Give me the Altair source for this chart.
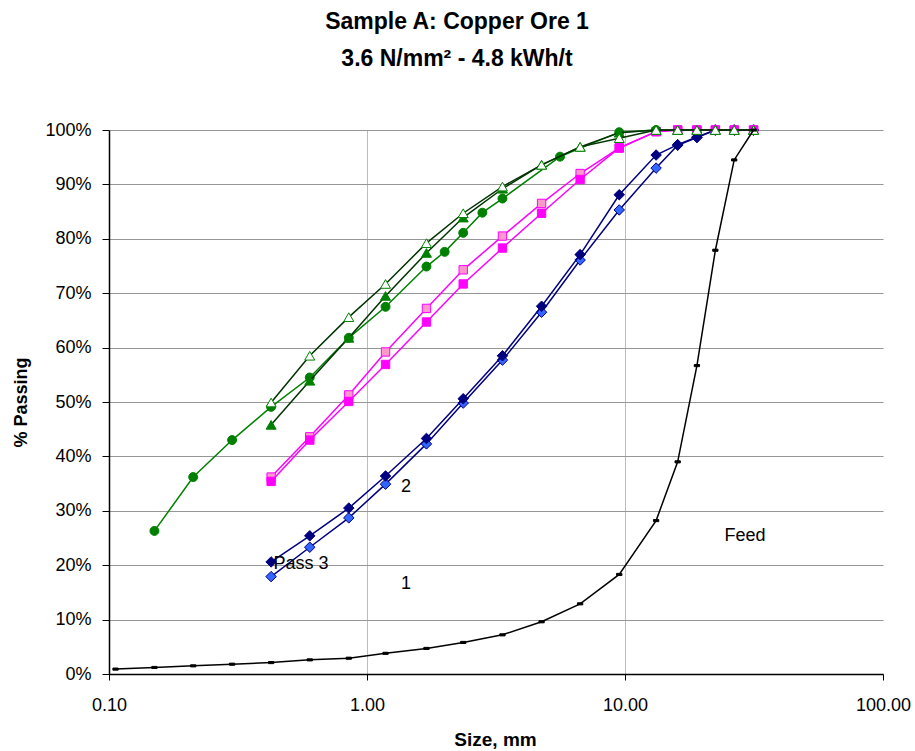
import altair as alt
import pandas as pd

FONT = "Liberation Sans, Arial, Helvetica, sans-serif"

# Sieve sizes (mm)
feed_sizes = [0.106, 0.15, 0.212, 0.3, 0.425, 0.6, 0.85, 1.18, 1.7, 2.36, 3.35, 4.75,
              6.7, 9.5, 13.2, 16, 19, 22.4, 26.5, 31.5]
prod_sizes = [0.425, 0.6, 0.85, 1.18, 1.7, 2.36, 3.35, 4.75, 6.7, 9.5, 13.2, 16, 19,
              22.4, 26.5, 31.5]
circle_sizes = [0.15, 0.212, 0.3, 0.425, 0.6, 0.85, 1.18, 1.7, 2.0, 2.36, 2.8, 3.35,
                5.6, 9.5, 13.2]

# % passing
feed = [0.9, 1.2, 1.5, 1.8, 2.1, 2.6, 2.9, 3.8, 4.7, 5.8, 7.2, 9.6, 12.9, 18.3, 28.2,
        39.0, 56.7, 77.9, 94.5, 100]
blue_dark = [20.6, 25.4, 30.5, 36.4, 43.3, 50.6, 58.5, 67.6, 77.1, 88.1, 95.4, 97.3,
             98.7, 100, 100, 100]
blue_light = [17.9, 23.3, 28.7, 34.9, 42.3, 49.8, 57.7, 66.5, 76.1, 85.3, 93.0, 97.2,
              98.6, 100, 100, 100]
pink_open = [36.2, 43.6, 51.3, 59.2, 67.2, 74.3, 80.5, 86.5, 92.0, 96.7, 99.7, 100,
             100, 100, 100, 100]
pink_filled = [35.4, 43.0, 50.1, 56.9, 64.7, 71.7, 78.3, 84.7, 90.9, 96.7, 99.7, 100,
               100, 100, 100, 100]
green_circle = [26.3, 36.2, 43.0, 49.1, 54.5, 61.8, 67.5, 74.9, 77.6, 81.1, 84.8, 87.4,
                95.1, 99.6, 100]
green_tri_filled = [45.8, 53.9, 61.8, 69.5, 77.4, 83.9, 89.2, 93.6, 96.9, 99.5, 100,
                    100, 100, 100, 100, 100]
green_tri_open = [49.9, 58.5, 65.6, 71.7, 79.2, 84.7, 89.6, 93.6, 96.9, 98.5, 100,
                  100, 100, 100, 100, 100]

# Annotations
ann_text = ["Pass 3", "2", "1", "Feed"]
ann_x = [0.434, 1.356, 1.356, 24.3]
ann_y = [19.3, 33.5, 15.6, 24.5]

DASH = "M-1,-0.4L1,-0.4L1,0.4L-1,0.4Z"

series = [
    # sizes, values, line colour, shape, fill, stroke, marker size
    (prod_sizes, blue_light, "#000080", "diamond", "#3366FF", "#000080", 110),
    (prod_sizes, blue_dark, "#000080", "diamond", "#000080", "#000080", 110),
    (prod_sizes, pink_open, "#FF00FF", "square", "#FF99CC", "#FF00FF", 70),
    (prod_sizes, pink_filled, "#FF00FF", "square", "#FF00FF", "#FF00FF", 70),
    (circle_sizes, green_circle, "#008000", "circle", "#008000", "#008000", 80),
    (prod_sizes, green_tri_filled, "#003300", "triangle-up", "#008000", "#008000", 100),
    (prod_sizes, green_tri_open, "#003300", "triangle-up", "#FFFFFF", "#008000", 100),
    (feed_sizes, feed, "#000000", DASH, "#000000", "#000000", 28),
]

xscale = alt.Scale(type="log", domain=[0.1, 100], nice=False)
yscale = alt.Scale(domain=[0, 100], nice=False)

xaxis = alt.Axis(
    values=[0.1, 1, 10, 100], format=".2f", title="Size, mm",
    grid=True, gridColor="#BDBDBD", gridWidth=1,
    gridOpacity={"condition": {"test": "datum.value == 1 || datum.value == 10", "value": 1}, "value": 0},
    domainColor="#000000", domainWidth=1.5, tickColor="#000000", tickSize=6,
    labelFontSize=18, labelFont=FONT, labelColor="#000000", labelPadding=16,
    labelFlush=False, labelOverlap=False,
    titleFontSize=19, titleFont=FONT, titleFontWeight="bold", titleColor="#000000",
    titleX=386, titleY=71, titleBaseline="alphabetic", titleAlign="center",
)
yaxis = alt.Axis(
    values=list(range(0, 101, 10)), labelExpr="datum.value + '%'", title="% Passing",
    grid=True, gridColor="#969696", gridWidth=1,
    domainColor="#000000", domainWidth=1.5, tickColor="#000000", tickSize=7,
    labelFontSize=18, labelFont=FONT, labelColor="#000000", labelPadding=11,
    labelFlush=False, labelOverlap=False,
    titleFontSize=18, titleFont=FONT, titleFontWeight="bold", titleColor="#000000",
    titleX=-88, titleY=272, titleAngle=270, titleAlign="center", titleBaseline="middle",
)

layers = []
first = True
for sizes, vals, lcol, shape, fill, stroke, msize in series:
    df = pd.DataFrame({"size": sizes, "pct": vals})
    if first:
        x = alt.X("size:Q", scale=xscale, axis=xaxis)
        y = alt.Y("pct:Q", scale=yscale, axis=yaxis)
    else:
        x = alt.X("size:Q", scale=xscale)
        y = alt.Y("pct:Q", scale=yscale)
    first = False
    line = alt.Chart(df).mark_line(color=lcol, strokeWidth=1.5).encode(x=x, y=y)
    pts = alt.Chart(df).mark_point(shape=shape, filled=True, fill=fill, stroke=stroke,
                                   strokeWidth=1, opacity=1, size=msize).encode(
        x=alt.X("size:Q", scale=xscale), y=alt.Y("pct:Q", scale=yscale))
    layers += [line, pts]

ann = pd.DataFrame({"t": ann_text, "size": ann_x, "pct": ann_y})
text = alt.Chart(ann).mark_text(align="left", baseline="alphabetic", fontSize=18,
                                font=FONT, color="#000000").encode(
    x=alt.X("size:Q", scale=xscale), y=alt.Y("pct:Q", scale=yscale), text="t:N")
layers.append(text)

chart = alt.layer(*layers).properties(
    width=774, height=544,
    autosize="none",
    background="#FFFFFF",
    padding={"left": 109, "top": 130, "right": 32, "bottom": 77},
    title=alt.TitleParams(
        text=["Sample A: Copper Ore 1", "3.6 N/mm² - 4.8 kWh/t"],
        fontSize=23, fontWeight="bold", font=FONT, color="#000000",
        lineHeight=37, anchor="middle", dx=-39, offset=50,
    ),
).configure_view(stroke=None)

chart.save("out.html", embed_options={"renderer": "svg", "actions": False})
